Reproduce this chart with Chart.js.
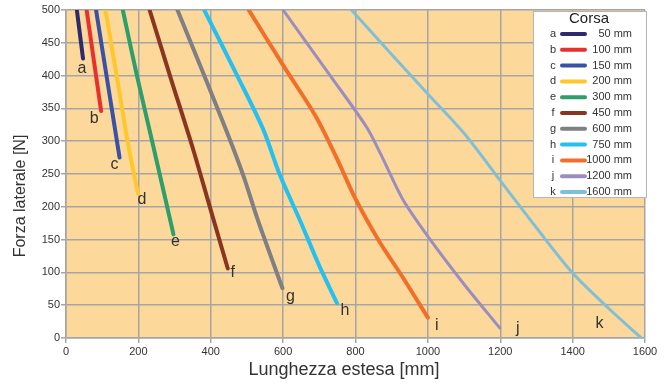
<!DOCTYPE html>
<html>
<head>
<meta charset="utf-8">
<script src="https://cdn.jsdelivr.net/npm/chart.js@4.4.1/dist/chart.umd.min.js"></script>
<style>
    body { margin: 0; background: #fff; }
    canvas { display: block; }
</style>
</head>
<body>
<canvas id="forza_chart" width="670" height="385"></canvas>
<script>
// curve letters and legend texts
var letters = ['a', 'b', 'c', 'd', 'e', 'f', 'g', 'h', 'i', 'j', 'k'];
var strokes = ['50 mm', '100 mm', '150 mm', '200 mm', '300 mm', '450 mm', '600 mm', '750 mm', '1000 mm', '1200 mm', '1600 mm'];
var colors = ['#2e2a6b', '#e8312f', '#3a52a4', '#ffc72c', '#2e9e6a', '#8b3520', '#7f7f84', '#26c0f0', '#f26f2a', '#9b8dbe', '#80bfd6'];

// extended length [mm] / lateral force [N]
var aX = [30, 47];
var aY = [500, 426];
var bX = [57, 97];
var bY = [500, 346];
var cX = [83, 148];
var cY = [500, 275];
var dX = [109, 140, 171, 199];
var dY = [500, 400, 297, 220];
var eX = [157, 196, 238, 297];
var eY = [500, 400, 300, 158];
var fX = [231, 290, 350, 400, 447];
var fY = [500, 395, 290, 195, 106];
var gX = [308, 382, 446, 491, 530, 598];
var gY = [500, 400, 312, 246, 180, 76];
var hX = [382, 473, 545, 590, 650, 700, 749];
var hY = [500, 400, 318, 250, 175, 110, 53];
var iX = [505, 602, 690, 750, 800, 865, 930, 1000];
var iY = [500, 414, 338, 272, 212, 148, 93, 31];
var jX = [600, 730, 830, 870, 930, 1000, 1100, 1199];
var jY = [500, 400, 322, 280, 212, 155, 82, 15];
var kX = [789, 900, 1000, 1100, 1200, 1300, 1400, 1500, 1590];
var kY = [500, 432, 372, 312, 240, 168, 99, 45, 0];

var seriesX = [aX, bX, cX, dX, eX, fX, gX, hX, iX, jX, kX];
var seriesY = [aY, bY, cY, dY, eY, fY, gY, hY, iY, jY, kY];

// pixel offset of each letter from the curve end
var letterOffsets = [[-1, 10], [-7, 8], [-5, 7], [4, 6], [2, 7], [5, 4], [8, 8], [8, 7], [9, 8], [18, 0], [-42, -14]];

var gridColor = '#a5a5a5';
var plotBg = '#fdd89b';
var textColor = '#333333';
var fontName = '"Liberation Sans", Arial, sans-serif';

function buildDatasets() {
    var sets = [];
    for (var s = 0; s < seriesX.length; s++) {
        var pts = [];
        for (var n = 0; n < seriesX[s].length; n++) {
            pts.push({ x: seriesX[s][n], y: seriesY[s][n] });
        }
        sets.push({
            label: strokes[s],
            data: pts,
            showLine: true,
            borderColor: colors[s],
            backgroundColor: colors[s],
            borderWidth: s >= 9 ? 3 : 4,
            borderCapStyle: 'round',
            tension: 0.3,
            pointRadius: 0
        });
    }
    return sets;
}

var plotBackground = {
    id: 'plotBackground',
    beforeDraw: function (chart) {
        var a = chart.chartArea, ctx = chart.ctx;
        ctx.save();
        ctx.fillStyle = plotBg;
        ctx.fillRect(a.left, a.top, a.right - a.left, a.bottom - a.top);
        ctx.restore();
    }
};

var curveLetters = {
    id: 'curveLetters',
    afterDatasetsDraw: function (chart) {
        var ctx = chart.ctx;
        ctx.save();
        ctx.font = '16px ' + fontName;
        ctx.fillStyle = textColor;
        ctx.textAlign = 'center';
        ctx.textBaseline = 'middle';
        for (var s = 0; s < letters.length; s++) {
            var pts = chart.getDatasetMeta(s).data;
            var last = pts[pts.length - 1];
            ctx.fillText(letters[s], last.x + letterOffsets[s][0], last.y + letterOffsets[s][1]);
        }
        ctx.restore();
    }
};

var axisTitles = {
    id: 'axisTitles',
    afterDraw: function (chart) {
        var ctx = chart.ctx;
        ctx.save();
        ctx.fillStyle = textColor;
        ctx.textAlign = 'center';
        ctx.textBaseline = 'middle';
        ctx.font = '18px ' + fontName;
        ctx.fillText('Lunghezza estesa [mm]', 344, 370);
        ctx.translate(21, 196);
        ctx.rotate(-Math.PI / 2);
        ctx.font = '16px ' + fontName;
        ctx.fillText('Forza laterale [N]', 0, 0);
        ctx.restore();
    }
};

var corsaLegend = {
    id: 'corsaLegend',
    afterDraw: function (chart) {
        var ctx = chart.ctx;
        var left = 533, top = 11, w = 113, h = 186;
        ctx.save();
        ctx.fillStyle = '#ffffff';
        ctx.fillRect(left, top, w, h);
        ctx.strokeStyle = '#b5b5b5';
        ctx.lineWidth = 1;
        ctx.strokeRect(left + 0.5, top + 0.5, w, h);

        ctx.fillStyle = '#222';
        ctx.font = '15px ' + fontName;
        ctx.textAlign = 'center';
        ctx.textBaseline = 'middle';
        ctx.fillText('Corsa', 589, 19);

        ctx.font = '11px ' + fontName;
        for (var s = 0; s < letters.length; s++) {
            var y = 34 + s * 15.8;
            ctx.fillStyle = textColor;
            ctx.textAlign = 'center';
            ctx.fillText(letters[s], 553, y);
            ctx.textAlign = 'right';
            ctx.fillText(strokes[s], 632, y);
            var textW = ctx.measureText(strokes[s]).width;
            var lineEnd = Math.min(585, 632 - textW - 1);
            ctx.strokeStyle = colors[s];
            ctx.lineWidth = 4;
            ctx.lineCap = 'round';
            ctx.beginPath();
            ctx.moveTo(lineEnd - 23, y);
            ctx.lineTo(lineEnd, y);
            ctx.stroke();
        }
        ctx.restore();
    }
};

new Chart(document.getElementById('forza_chart').getContext('2d'), {
    type: 'scatter',
    data: { datasets: buildDatasets() },
    options: {
        responsive: false,
        animation: false,
        layout: { padding: { top: 10, right: 25, left: 0, bottom: 0 } },
        plugins: {
            legend: { display: false },
            tooltip: { enabled: false }
        },
        scales: {
            x: {
                type: 'linear',
                min: 0,
                max: 1600,
                ticks: {
                    stepSize: 200, color: textColor, font: { size: 11, family: fontName }, padding: 2, maxRotation: 0,
                    callback: function (v) { return String(v); }
                },
                grid: { color: gridColor, lineWidth: 1.5, tickLength: 5 },
                border: { color: gridColor, width: 1.5 },
                afterFit: function (scale) { scale.height = 47; }
            },
            y: {
                min: 0,
                max: 500,
                ticks: { stepSize: 50, color: textColor, font: { size: 11, family: fontName }, padding: 1 },
                grid: { color: gridColor, lineWidth: 1.5, tickLength: 5 },
                border: { color: gridColor, width: 1.5 },
                afterFit: function (scale) { scale.width = 66; }
            }
        }
    },
    plugins: [plotBackground, curveLetters, axisTitles, corsaLegend]
});
</script>
</body>
</html>
